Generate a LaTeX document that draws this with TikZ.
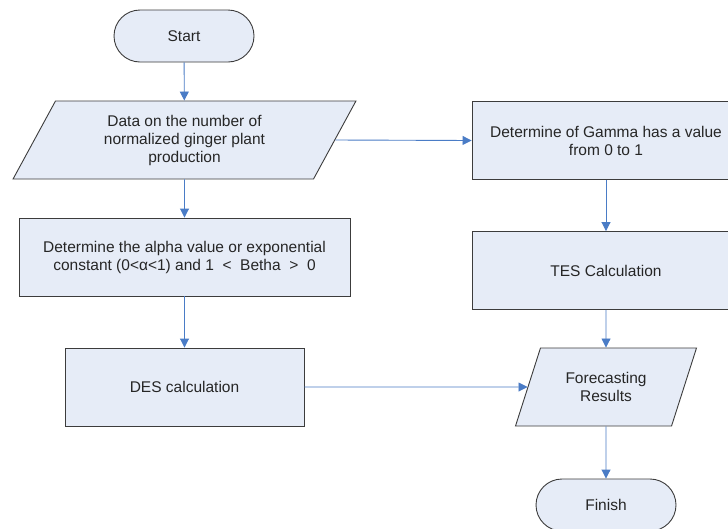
\documentclass[tikz,border=0pt]{standalone}
\usepackage{fontspec}
\setmainfont{Liberation Sans}
\usetikzlibrary{shapes.geometric,arrows.meta}
\definecolor{boxfill}{HTML}{E6ECF7}
\definecolor{boxline}{HTML}{3C3C3C}
\definecolor{arrowblue}{HTML}{4A7CC6}
\tikzset{
  base/.style={draw=boxline, fill=boxfill, line width=0.9pt, inner sep=0pt, align=center,
    font=\fontsize{15.5}{18}\selectfont, text=black!85},
  procbox/.style={base, rectangle, minimum height=78pt},
  termbox/.style={base, rectangle, rounded corners=26pt, minimum width=140pt, minimum height=52pt},
  iobox/.style={base, trapezium, trapezium left angle=62.3, trapezium right angle=117.7,
    trapezium stretches=true, minimum height=78pt},
  flow/.style={draw=arrowblue, line width=0.9pt, -{Triangle[width=9pt,length=9pt]}},
}
\begin{document}
\begin{tikzpicture}[x=1pt,y=-1pt]
\useasboundingbox (0,0) rectangle (728,528);
\clip (0,0) rectangle (728,528);
\fill[white] (0,0) rectangle (728,528);
\node[termbox] (start) at (184,36) {Start};
\node[iobox, minimum width=343pt] (data) at (184.5,140) {Data on the number of\\normalized ginger plant\\production};
\node[procbox, minimum width=331pt] (alpha) at (184.5,257) {Determine the alpha value or exponential\\constant (0<α<1) and 1~~<~~Betha~~>~~0};
\node[procbox, minimum width=239pt] (des) at (184.5,387) {DES calculation};
\node[procbox, minimum width=268pt] (gamma) at (606,140.5) {Determine of Gamma has a value\\from 0 to 1};
\node[procbox, minimum width=268pt] (tes) at (606,270.5) {TES Calculation};
\node[iobox, minimum width=181pt] (fc) at (606,387) {Forecasting\\Results};
\node[termbox] (fin) at (606,505) {Finish};
\draw[flow] (start) -- (data);
\draw[flow] (data) -- (alpha);
\draw[flow] (alpha) -- (des);
\draw[flow] (data.east) -- (gamma.west);
\draw[flow] (gamma) -- (tes);
\draw[flow] (tes) -- (fc);
\draw[flow] (des.east) -- (fc.west);
\draw[flow] (fc) -- (fin);
\end{tikzpicture}
\end{document}
